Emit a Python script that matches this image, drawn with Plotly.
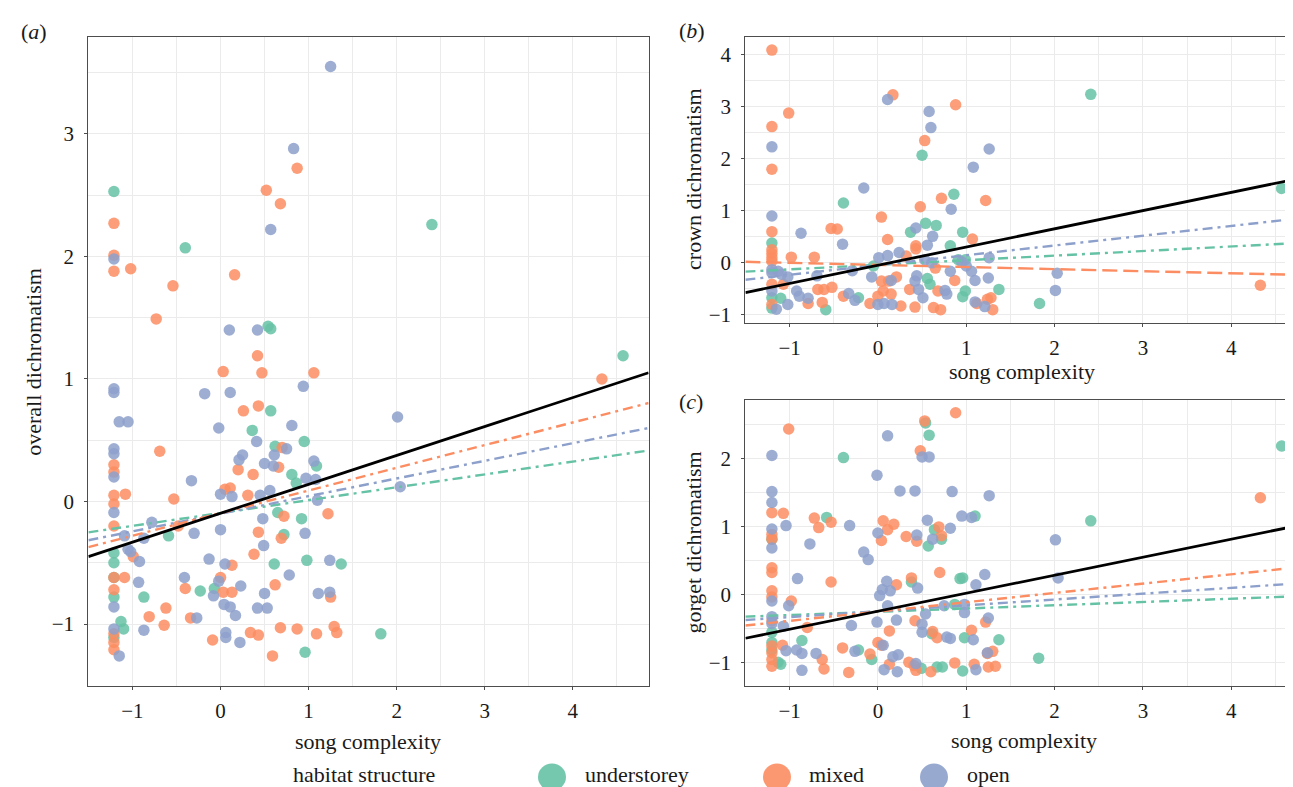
import plotly.graph_objects as go

# ---------------- data ----------------
habitats = ["understorey", "mixed", "open"]
colors = {"understorey": "#66C2A5", "mixed": "#FC8D62", "open": "#8DA0CB"}

# Panel (a): overall dichromatism
a_under_x = [-1.21, -0.40, 2.40, 0.54, 0.57, 4.57, 0.57, 0.36, 0.95, 0.62, 1.09, 0.81, 0.86, 0.65, 0.92, 0.72, -0.59, -1.21, -1.21, 0.61, 0.98, 1.37, -1.21, -0.23, -0.07, -1.21, -0.87, -1.13, -1.10, -1.21, 1.82, 0.96]
a_under_y = [2.53, 2.07, 2.26, 1.43, 1.41, 1.19, 0.74, 0.58, 0.49, 0.45, 0.29, 0.22, 0.15, -0.09, -0.14, -0.27, -0.28, -0.42, -0.50, -0.51, -0.48, -0.51, -0.62, -0.73, -0.71, -0.78, -0.78, -0.98, -1.04, -1.11, -1.08, -1.23]
a_mixed_x = [-1.21, 0.52, 0.68, 0.87, -1.21, -1.21, -1.02, 0.16, -0.54, -0.73, 0.42, 0.03, 0.47, 1.06, 4.33, 0.26, 0.43, -0.69, 0.70, 0.66, -1.21, -1.21, 0.20, 0.37, 0.05, 0.11, 0.31, -1.21, -1.21, -1.08, -0.53, 1.22, 0.72, -1.21, -0.48, 0.43, 0.69, -0.99, 0.38, 0.13, -1.21, -1.09, 0.00, -0.40, 0.03, 0.13, 0.62, 1.25, -1.21, -0.62, -0.81, -0.34, -0.64, -0.09, 0.34, 0.43, 0.68, 0.87, 1.09, 1.29, 1.32, 0.59, -1.21, -1.21, -1.21]
a_mixed_y = [2.27, 2.54, 2.43, 2.72, 2.01, 1.88, 1.90, 1.85, 1.76, 1.49, 1.19, 1.06, 1.05, 1.05, 1.00, 0.74, 0.78, 0.41, 0.44, 0.28, 0.30, 0.24, 0.26, 0.22, 0.10, 0.11, 0.05, 0.05, -0.02, 0.06, 0.02, -0.10, -0.12, -0.20, -0.20, -0.25, -0.30, -0.45, -0.43, -0.52, -0.62, -0.62, -0.62, -0.71, -0.74, -0.74, -0.68, -0.78, -0.72, -0.87, -0.94, -0.95, -1.01, -1.13, -1.07, -1.09, -1.03, -1.04, -1.08, -1.02, -1.07, -1.26, -1.15, -1.21, -1.08]
a_open_x = [1.25, 0.83, 0.57, -1.21, 0.10, 0.42, -1.21, -1.21, -0.18, 0.11, 0.94, -1.15, -1.05, 2.01, -0.02, 0.81, 0.41, -1.21, -1.21, 0.75, 0.25, 0.21, 0.61, 0.50, 0.60, 1.06, -1.21, 0.97, 1.08, -0.33, 0.00, 0.13, 0.45, 0.56, 1.10, 2.04, -1.21, 0.48, -0.78, 0.00, 0.96, -0.30, -0.87, -1.09, -1.05, -1.02, -0.92, 0.49, -0.13, 0.05, 1.24, -0.41, -0.02, 0.78, -0.93, -0.08, 0.23, 0.50, 1.11, 1.24, -1.21, 0.04, 0.11, 0.17, 0.42, 0.53, -0.27, -0.87, -1.21, 0.06, 0.06, 0.22, -1.15]
a_open_y = [3.55, 2.88, 2.22, 1.98, 1.40, 1.40, 0.92, 0.89, 0.88, 0.89, 0.94, 0.65, 0.65, 0.69, 0.60, 0.62, 0.49, 0.43, 0.39, 0.43, 0.38, 0.34, 0.38, 0.31, 0.29, 0.33, 0.20, 0.19, 0.18, 0.17, 0.06, 0.04, 0.05, 0.09, 0.01, 0.12, -0.09, -0.14, -0.17, -0.23, -0.26, -0.26, -0.30, -0.28, -0.39, -0.41, -0.49, -0.36, -0.47, -0.51, -0.48, -0.62, -0.65, -0.60, -0.66, -0.77, -0.69, -0.75, -0.75, -0.74, -0.86, -0.84, -0.86, -0.93, -0.87, -0.87, -0.95, -1.05, -1.04, -1.07, -1.11, -1.15, -1.26]

# Panel (b): crown dichromatism
b_under_x = [-1.20, 2.41, 4.57, 0.50, -0.39, 0.86, 0.37, 0.54, 0.66, 0.96, 0.82, -0.05, 0.91, 0.99, 0.56, 0.59, 0.99, 0.96, 1.37, -0.59, -0.22, 1.83, -1.20, -1.20, -1.10]
b_under_y = [0.38, 3.24, 1.43, 2.07, 1.15, 1.32, 0.59, 0.76, 0.72, 0.59, 0.33, -0.06, 0.06, 0.06, -0.30, -0.41, -0.54, -0.65, -0.51, -0.90, -0.67, -0.78, -0.67, -0.87, -0.68]
b_mixed_x = [-1.20, -1.01, -1.20, -1.20, -1.20, 0.17, 0.88, 0.53, 0.48, 0.72, 1.22, 0.04, -0.53, -0.46, 0.11, 1.07, 0.43, 0.43, 0.32, -0.98, -0.72, -1.20, -1.20, -1.20, -1.20, -1.20, -1.07, -1.20, 4.33, 0.04, 0.12, 0.21, 0.00, 0.06, 0.15, -0.68, -0.61, -0.52, -0.79, -0.63, -0.39, -0.09, 0.26, 0.36, 0.42, 0.65, 0.68, 0.63, 0.71, 0.87, 1.28, 1.24, 1.12, 1.30]
b_mixed_y = [4.09, 2.88, 2.62, 1.80, 0.60, 3.23, 3.04, 2.35, 1.08, 1.24, 1.20, 0.88, 0.66, 0.65, 0.45, 0.46, 0.33, 0.27, 0.13, 0.11, 0.11, 0.25, 0.18, 0.10, 0.03, -0.41, -0.41, -0.80, -0.43, -0.35, -0.35, -0.27, -0.64, -0.54, -0.60, -0.51, -0.51, -0.47, -0.78, -0.76, -0.64, -0.78, -0.83, -0.51, -0.85, -0.10, -0.54, -0.86, -0.90, -0.34, -0.67, -0.70, -0.78, -0.90]
b_open_x = [-1.20, -1.20, 0.11, 0.58, 0.60, 1.26, 1.08, -0.16, 0.83, -0.87, -0.40, 0.43, 0.62, 0.56, 0.24, 0.01, 0.11, 1.26, 2.03, 2.01, -1.20, -1.20, -1.20, -1.15, -1.13, -1.09, -1.02, -0.69, -0.92, -0.89, -0.79, -1.02, -0.33, -0.26, -0.29, -0.07, 0.15, 0.00, 0.07, 0.16, 0.42, 0.44, 0.46, 0.51, 0.53, 0.61, 0.76, 0.78, 0.95, 1.00, 1.06, 0.82, 1.10, 1.25, 1.10, 1.21]
b_open_y = [2.23, 0.90, 3.14, 2.91, 2.60, 2.19, 1.84, 1.44, 1.03, 0.57, 0.36, 0.67, 0.51, 0.34, 0.20, 0.10, 0.14, 0.10, -0.20, -0.53, -0.13, -0.19, -0.54, -0.89, -0.16, -0.22, -0.27, -0.25, -0.54, -0.64, -0.68, -0.80, -0.59, -0.72, -0.15, -0.27, -0.34, -0.80, -0.78, -0.80, -0.35, -0.25, -0.51, -0.67, 0.06, 0.00, -0.53, -0.60, 0.02, -0.06, -0.16, -0.16, -0.34, -0.29, -0.75, -0.84]

# Panel (c): gorget dichromatism
c_under_x = [-0.39, 0.54, 0.58, 4.57, 2.41, -0.58, -1.20, 0.64, 0.72, 0.57, 1.10, 0.38, 0.93, 0.96, 0.87, 0.61, 0.98, 1.37, -1.20, -1.20, -1.20, -1.13, -1.10, -0.86, -0.22, -0.07, 0.49, 0.67, 0.73, 0.96, 1.82]
c_under_y = [2.02, 2.53, 2.35, 2.19, 1.09, 1.14, 0.82, 0.96, 0.82, 0.72, 1.16, 0.19, 0.24, 0.25, -0.14, -0.57, -0.63, -0.66, -0.55, -0.70, -0.81, -0.99, -1.02, -0.67, -0.81, -0.95, -1.08, -1.06, -1.06, -1.12, -0.93]
c_mixed_x = [-1.01, 0.53, 0.88, 0.48, 4.33, -1.20, -1.07, -0.72, -0.67, -0.53, -1.20, -1.20, 0.06, 0.18, 0.11, 0.04, 0.32, 0.44, 0.69, 0.72, -1.20, -1.20, -0.53, 0.21, 0.38, 0.70, -1.20, -1.20, -0.98, -1.20, -0.80, 0.13, 0.42, 0.62, 0.67, 1.06, 1.22, 1.30, 1.24, -1.20, -1.20, -1.20, -1.20, -1.08, -0.63, -0.61, -0.40, -0.33, -0.09, 0.00, 0.04, 0.13, 0.35, 0.41, 0.43, 0.60, 0.87, 1.09, 1.25, 1.33]
c_mixed_y = [2.44, 2.56, 2.68, 2.12, 1.43, 1.21, 1.20, 1.13, 0.99, 1.07, 0.89, 0.82, 1.09, 1.04, 0.96, 0.80, 0.86, 0.79, 1.00, 0.87, 0.40, 0.33, 0.19, 0.15, 0.25, 0.33, 0.06, -0.03, -0.09, -0.38, -0.48, -0.53, -0.38, -0.54, -0.63, -0.52, -0.40, -0.83, -0.86, -0.75, -0.85, -0.95, -1.05, -0.74, -0.95, -1.09, -0.78, -1.14, -0.87, -0.70, -0.74, -1.02, -0.99, -1.04, -1.11, -1.13, -1.00, -1.02, -1.06, -1.05]
c_open_x = [-1.20, 0.11, 0.50, 0.58, -0.01, 0.25, 0.42, 0.84, 1.26, -1.20, -1.20, -1.04, -0.32, -1.20, -1.20, -0.77, -0.16, -0.11, 0.00, 0.44, 0.56, 0.62, 0.82, 0.95, 1.06, 2.01, -0.91, 0.10, 0.05, 0.14, 0.02, 0.45, 1.21, 1.11, 2.04, -1.20, -1.01, 0.11, -1.20, -1.20, -1.07, -0.30, -0.01, 0.21, 0.50, 0.50, 0.54, 0.75, 0.98, 0.98, 0.78, 0.82, 1.08, 1.25, 1.24, -1.04, -0.92, -0.86, -0.70, -0.86, -0.26, 0.06, 0.17, 0.23, 0.07, 0.22, 0.43, 1.11]
c_open_y = [2.05, 2.34, 2.03, 2.03, 1.76, 1.53, 1.53, 1.52, 1.46, 1.52, 1.36, 1.02, 1.02, 0.97, 0.69, 0.75, 0.63, 0.52, 0.91, 0.88, 1.10, 0.82, 0.98, 1.16, 1.14, 0.81, 0.24, 0.20, 0.08, 0.06, -0.01, 0.10, 0.30, 0.15, 0.25, -0.09, -0.16, -0.16, -0.32, -0.42, -0.46, -0.45, -0.40, -0.37, -0.43, -0.55, -0.28, -0.16, -0.14, -0.26, -0.62, -0.64, -0.66, -0.34, -0.85, -0.82, -0.81, -0.86, -0.86, -1.11, -0.83, -0.74, -0.91, -0.88, -1.10, -1.13, -1.01, -1.10]

# regression lines: intercept / slope per group (overall, understorey, mixed, open)
line_groups = ["overall", "understorey", "mixed", "open"]
a_intercepts = [-0.096, -0.094, -0.095, -0.100]
a_slopes = [0.236, 0.105, 0.185, 0.144]
b_intercepts = [-0.046, -0.037, -0.040, -0.042]
b_slopes = [0.350, 0.088, -0.040, 0.188]
c_intercepts = [-0.240, -0.248, -0.245, -0.240]
c_slopes = [0.265, 0.048, 0.137, 0.086]

x_ticks = [-1, 0, 1, 2, 3, 4]
a_y_ticks = [-1, 0, 1, 2, 3]
b_y_ticks = [-1, 0, 1, 2, 3, 4]
c_y_ticks = [-1, 0, 1, 2]

titles_y = ["overall dichromatism", "crown dichromatism", "gorget dichromatism"]
title_x = "song complexity"
panel_tags = ["a", "b", "c"]
legend_title = "habitat structure"

# ---------------- layout geometry ----------------
W, H = 1293, 787
FONT = "Liberation Serif"
FS_TICK = 21
FS = 22
def px(x): return x / W
def py(y): return 1 - y / H

a_xrange = [-1.5, 4.86]
bc_xrange = [-1.5, 4.79]
a_yrange = [-1.503, 3.79]
b_yrange = [-1.15, 4.34]
c_yrange = [-1.335, 2.86]

panels = [
    dict(key="", dom_x=[px(80.4), px(640.6)], dom_y=[py(682), py(29.3)], xr=a_xrange, yr=a_yrange,
         yt=a_y_ticks, mirror_y=True,
         pts={"understorey": (a_under_x, a_under_y), "mixed": (a_mixed_x, a_mixed_y), "open": (a_open_x, a_open_y)},
         icpt=a_intercepts, slp=a_slopes, mixed_dash="dashdot"),
    dict(key="2", dom_x=[px(737.4), 1.0], dom_y=[py(316.7), py(29.3)], xr=bc_xrange, yr=b_yrange,
         yt=b_y_ticks, mirror_y=False,
         pts={"understorey": (b_under_x, b_under_y), "mixed": (b_mixed_x, b_mixed_y), "open": (b_open_x, b_open_y)},
         icpt=b_intercepts, slp=b_slopes, mixed_dash="long"),
    dict(key="3", dom_x=[px(737.4), 1.0], dom_y=[py(682), py(395)], xr=bc_xrange, yr=c_yrange,
         yt=c_y_ticks, mirror_y=False,
         pts={"understorey": (c_under_x, c_under_y), "mixed": (c_mixed_x, c_mixed_y), "open": (c_open_x, c_open_y)},
         icpt=c_intercepts, slp=c_slopes, mixed_dash="dashdot"),
]

DASHDOT = "10px,5px,3px,5px"
LONGDASH = "15px,6px"

fig = go.Figure()
layout = dict(width=W, height=H, margin=dict(l=0, r=0, t=0, b=0),
              paper_bgcolor="white", plot_bgcolor="white", showlegend=False,
              font=dict(family=FONT, size=FS, color="#1a1a1a"))

grid_col = "#EBEBEB"
axis_col = "#4D4D4D"
for p in panels:
    k = p["key"]
    xa, ya = "x" + k, "y" + k
    for h in habitats:
        xs, ys = p["pts"][h]
        fig.add_trace(go.Scatter(x=xs, y=ys, mode="markers", xaxis=xa, yaxis=ya, name=h,
                                 marker=dict(size=11.5, color=colors[h], opacity=0.85, line=dict(width=0)),
                                 hoverinfo="skip"))
    x_line = list(p["xr"])
    for gi in [1, 3, 2, 0]:
        g = line_groups[gi]
        yl = [p["icpt"][gi] + p["slp"][gi] * xv for xv in x_line]
        if g == "overall":
            ln = dict(color="black", width=2.8)
        else:
            dash = LONGDASH if (g == "mixed" and p["mixed_dash"] == "long") else DASHDOT
            ln = dict(color=colors[g], width=2.4, dash=dash)
        fig.add_trace(go.Scatter(x=x_line, y=yl, mode="lines", xaxis=xa, yaxis=ya, line=ln,
                                 hoverinfo="skip"))
    axis_common = dict(showline=True, linecolor=axis_col, linewidth=1.3, ticks="outside",
                       ticklen=3, tickcolor=axis_col, tickwidth=1, zeroline=False,
                       showgrid=True, gridcolor=grid_col, gridwidth=1.2,
                       tickfont=dict(family=FONT, size=FS_TICK, color="#1a1a1a"))
    layout["xaxis" + k] = dict(domain=p["dom_x"], range=p["xr"], anchor=ya, tickvals=x_ticks,
                               mirror=True, ticklabelstandoff=3,
                               minor=dict(tick0=-1.5, dtick=1, showgrid=True, gridcolor=grid_col, gridwidth=0.6, ticks=""),
                               **axis_common)
    layout["yaxis" + k] = dict(domain=p["dom_y"], range=p["yr"], anchor=xa, tickvals=p["yt"],
                               mirror=p["mirror_y"], ticklabelstandoff=6,
                               minor=dict(tick0=-1.5, dtick=1, showgrid=True, gridcolor=grid_col, gridwidth=0.6, ticks=""),
                               **axis_common)

def ann(text, x, y, xanchor="center", yanchor="middle", angle=0):
    return dict(text=text, x=px(x), y=py(y), xref="paper", yref="paper", xanchor=xanchor,
                yanchor=yanchor, textangle=angle, showarrow=False,
                font=dict(family=FONT, size=FS, color="#1a1a1a"))

annotations = []
annotations.append(ann(titles_y[0], 26, 356, angle=-90))
annotations.append(ann(titles_y[1], 686, 173, angle=-90))
annotations.append(ann(titles_y[2], 686, 538, angle=-90))
for cx, cy in [(360, 738), (1014, 366), (1016, 737)]:
    annotations.append(ann(title_x, cx, cy))
for tag, (tx, ty) in zip(panel_tags, [(26, 24), (684, 23), (683, 396)]):
    annotations.append(ann("(<i>%s</i>)" % tag, tx, ty))
annotations.append(ann(legend_title, 283, 786, xanchor="left", yanchor="bottom"))
shapes = []
for h, cx, tx in zip(habitats, [544, 769, 926], [575, 799, 957]):
    shapes.append(dict(type="circle", xref="paper", yref="paper", xsizemode="pixel", ysizemode="pixel",
                       xanchor=px(cx), yanchor=py(774), x0=-14, x1=14, y0=-13.5, y1=13.5,
                       fillcolor=colors[h], opacity=0.9, line=dict(width=0)))
    annotations.append(ann(h, tx, 786, xanchor="left", yanchor="bottom"))

layout["annotations"] = annotations
layout["shapes"] = shapes
fig.update_layout(**layout)
fig.write_html("out.html")
